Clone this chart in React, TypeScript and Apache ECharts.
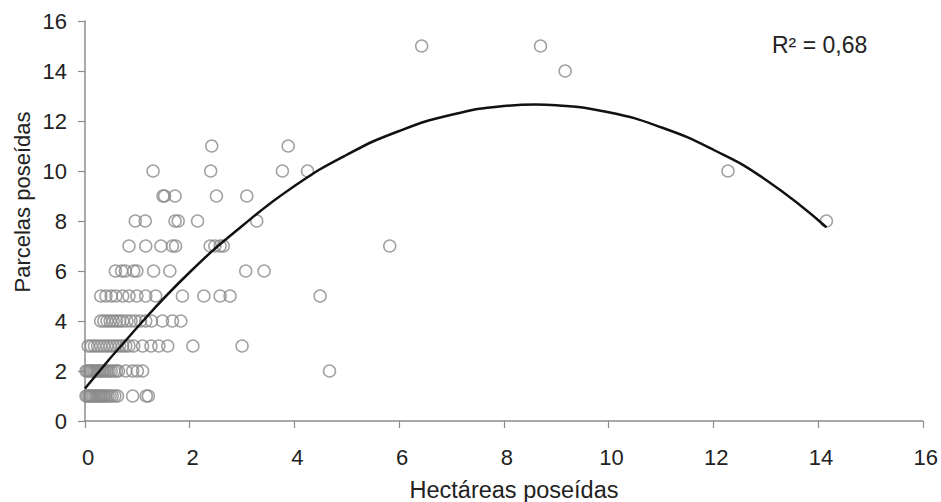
import React, { useEffect, useRef } from "react";
import * as echarts from "echarts";

// x values (hectares) of the farms, grouped by the number of parcels owned
const hectaresParcels1 = [0.02, 0.05, 0.08, 0.1, 0.13, 0.16, 0.19, 0.22, 0.25, 0.28, 0.31, 0.34, 0.37, 0.4, 0.44, 0.48, 0.52, 0.57, 0.62, 0.91, 1.17, 1.21];
const hectaresParcels2 = [0.02, 0.05, 0.08, 0.11, 0.14, 0.17, 0.2, 0.23, 0.26, 0.29, 0.32, 0.35, 0.38, 0.42, 0.46, 0.5, 0.55, 0.6, 0.64, 0.78, 0.91, 1.0, 1.1, 4.67];
const hectaresParcels3 = [0.06, 0.12, 0.18, 0.24, 0.3, 0.36, 0.42, 0.48, 0.54, 0.6, 0.66, 0.72, 0.78, 0.84, 0.93, 1.1, 1.26, 1.41, 1.58, 2.06, 3.0];
const hectaresParcels4 = [0.3, 0.36, 0.42, 0.48, 0.54, 0.6, 0.66, 0.72, 0.8, 0.88, 0.96, 1.06, 1.16, 1.27, 1.48, 1.67, 1.83];
const hectaresParcels5 = [0.3, 0.4, 0.5, 0.59, 0.72, 0.84, 0.99, 1.16, 1.35, 1.86, 2.27, 2.58, 2.77, 4.49];
const hectaresParcels6 = [0.58, 0.7, 0.77, 0.93, 0.99, 1.31, 1.62, 3.07, 3.42];
const hectaresParcels7 = [0.84, 1.16, 1.45, 1.67, 1.73, 2.39, 2.48, 2.58, 2.64, 5.82];
const hectaresParcels8 = [0.96, 1.15, 1.72, 1.78, 2.15, 3.28, 14.16];
const hectaresParcels9 = [1.49, 1.52, 1.72, 2.51, 3.09];
const hectaresParcels10 = [1.3, 2.4, 3.77, 4.25, 12.28];
const hectaresParcels11 = [2.42, 3.88];
const hectaresParcels14 = [9.17];
const hectaresParcels15 = [6.43, 8.7];

// polynomial trend line
const trendX = [0, 1, 2, 3, 4, 5, 6, 7, 8, 8.6, 9, 10, 11, 12, 13, 14.16];
const trendY = [1.3, 3.75, 5.95, 7.8, 9.4, 10.65, 11.6, 12.25, 12.6, 12.66, 12.63, 12.35, 11.75, 10.85, 9.65, 7.75];

const axisMin = 0;
const axisMax = 16;
const axisStep = 2;
const rSquaredLabel = "R² = 0,68";
const xAxisTitle = "Hectáreas poseídas";
const yAxisTitle = "Parcelas poseídas";

const groups: [number, number[]][] = [
  [1, hectaresParcels1],
  [2, hectaresParcels2],
  [3, hectaresParcels3],
  [4, hectaresParcels4],
  [5, hectaresParcels5],
  [6, hectaresParcels6],
  [7, hectaresParcels7],
  [8, hectaresParcels8],
  [9, hectaresParcels9],
  [10, hectaresParcels10],
  [11, hectaresParcels11],
  [14, hectaresParcels14],
  [15, hectaresParcels15],
];

export default function App() {
  const ref = useRef<HTMLDivElement>(null);
  useEffect(() => {
    const chart = echarts.init(ref.current!, null, { renderer: "svg" });
    const scatterData: number[][] = [];
    groups.forEach(([p, xs]) => xs.forEach((x) => scatterData.push([x, p])));
    const trendData = trendX.map((x, i) => [x, trendY[i]]);
    const font = "Liberation Sans, Arial, sans-serif";
    const axisCommon = {
      type: "value",
      min: axisMin,
      max: axisMax,
      interval: axisStep,
      splitLine: { show: false },
      axisLine: { show: true, lineStyle: { color: "#8c8c8c", width: 1.5 } },
      axisTick: { show: true, length: 7, lineStyle: { color: "#8c8c8c", width: 1.2 } },
      axisLabel: { color: "#222", fontSize: 22, fontFamily: font },
    };
    chart.setOption({
      animation: false,
      backgroundColor: "#fff",
      grid: { left: 85, right: 18, top: 21, bottom: 81 },
      xAxis: {
        ...axisCommon,
        axisLabel: { ...axisCommon.axisLabel, margin: 25, padding: [0, 0, 0, 6] },
      },
      yAxis: {
        ...axisCommon,
        axisLabel: { ...axisCommon.axisLabel, margin: 18 },
      },
      graphic: [
        {
          type: "text",
          x: 772,
          y: 45,
          style: { text: rSquaredLabel, fontSize: 23, fontFamily: font, fill: "#222", textVerticalAlign: "middle" },
        },
        {
          type: "text",
          x: 514,
          y: 490,
          style: { text: xAxisTitle, fontSize: 23.5, fontFamily: font, fill: "#222", textAlign: "center", textVerticalAlign: "middle" },
        },
        {
          type: "text",
          x: 22,
          y: 202,
          rotation: Math.PI / 2,
          style: { text: yAxisTitle, fontSize: 22, fontFamily: font, fill: "#222", textAlign: "center", textVerticalAlign: "middle" },
        },
      ],
      series: [
        {
          type: "scatter",
          data: scatterData,
          symbol: "circle",
          symbolSize: 12,
          itemStyle: { color: "rgba(0,0,0,0)", borderColor: "#8a8a8a", borderWidth: 1.5 },
          z: 2,
        },
        {
          type: "line",
          data: trendData,
          smooth: true,
          showSymbol: false,
          symbol: "none",
          lineStyle: { color: "#111", width: 2.5 },
          z: 3,
        },
      ],
    });
    return () => chart.dispose();
  }, []);
  return <div ref={ref} style={{ position: "fixed", left: 0, top: 0, width: 941, height: 502 }} />;
}
